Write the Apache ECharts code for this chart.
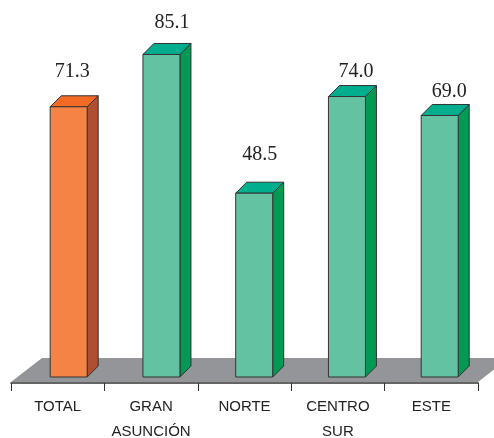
<!DOCTYPE html>
<html>
<head>
<meta charset="utf-8">
<style>
    html, body { margin: 0; padding: 0; background: #fff; }
    #chart { width: 494px; height: 438px; }
</style>
<script src="https://cdn.jsdelivr.net/npm/echarts@6/dist/echarts.min.js"></script>
</head>
<body>
<div id="chart"></div>
<script>
const categories = ['TOTAL', 'GRAN\nASUNCIÓN', 'NORTE', 'CENTRO\nSUR', 'ESTE'];
const values = [71.3, 85.1, 48.5, 74.0, 69.0];

const orange = { front: '#f58345', top: '#f26a24', side: '#ae4f31' };
const green = { front: '#62c2a2', top: '#00ae8e', side: '#009a55' };

// bars stand in the middle of the floor, not on the axis line
const barShiftX = 11;
const barDrift = 0.65;
const barShiftY = -6;
const barWidth = 37;
const depth = 11;
const labelDx = [3.5, 10.5, 5.5, 9, 9.5];
const labelLift = [35, 32, 38, 25, 24];

function renderBar(params, api) {
    let index = api.value(0);
    let foot = api.coord([index, 0]);
    let head = api.coord([index, api.value(1)]);
    let colors = index === 0 ? orange : green;

    let x0 = foot[0] + barShiftX - index * barDrift - barWidth / 2;
    let x1 = x0 + barWidth;
    let yBottom = foot[1] + barShiftY;
    let yTop = head[1] + barShiftY;
    let line = { stroke: '#333', lineWidth: 1, lineJoin: 'round' };

    return {
        type: 'group',
        children: [
            {
                type: 'polygon',
                shape: { points: [[x1, yTop], [x1 + depth, yTop - depth], [x1 + depth, yBottom - depth], [x1, yBottom]] },
                style: { fill: colors.side, ...line }
            },
            {
                type: 'polygon',
                shape: { points: [[x0, yTop], [x0 + depth, yTop - depth], [x1 + depth, yTop - depth], [x1, yTop]] },
                style: { fill: colors.top, ...line }
            },
            {
                type: 'rect',
                shape: { x: x0, y: yTop, width: barWidth, height: yBottom - yTop },
                style: { fill: colors.front, ...line }
            },
            {
                type: 'text',
                style: {
                    x: (x0 + x1) / 2 + labelDx[index],
                    y: yTop - labelLift[index],
                    text: values[index].toFixed(1),
                    fill: '#222',
                    font: '20px "Liberation Serif"',
                    align: 'center',
                    verticalAlign: 'middle'
                }
            }
        ]
    };
}

function renderFloor(params, api) {
    let grid = params.coordSys;
    let left = grid.x;
    let right = grid.x + grid.width;
    let bottom = grid.y + grid.height - 1;
    return {
        type: 'polygon',
        shape: {
            points: [[left, bottom], [left + 31, bottom - 24], [right + 31, bottom - 24], [right, bottom]]
        },
        style: { fill: '#939598' }
    };
}

let chart = echarts.init(document.getElementById('chart'), null, { renderer: 'canvas' });
chart.setOption({
    animation: false,
    backgroundColor: '#fff',
    grid: { left: 11, top: 4, width: 467, height: 379, outerBoundsMode: 'none' },
    xAxis: {
        type: 'category',
        data: categories,
        axisLine: { show: true, lineStyle: { color: '#333', width: 1.5 } },
        axisTick: { show: true, alignWithLabel: false, length: 8, lineStyle: { color: '#333', width: 1 } },
        axisLabel: {
            interval: 0,
            margin: 11,
            color: '#222',
            fontFamily: 'Liberation Sans',
            fontSize: 15,
            lineHeight: 25,
            verticalAlign: 'top'
        }
    },
    yAxis: { type: 'value', min: 0, max: 100, show: false },
    series: [
        {
            type: 'custom',
            renderItem: renderFloor,
            data: [0],
            clip: false,
            z: 1,
            silent: true
        },
        {
            type: 'custom',
            renderItem: renderBar,
            data: values.map((v, i) => [i, v]),
            encode: { x: 0, y: 1 },
            clip: false,
            z: 3
        }
    ]
});
</script>
</body>
</html>
